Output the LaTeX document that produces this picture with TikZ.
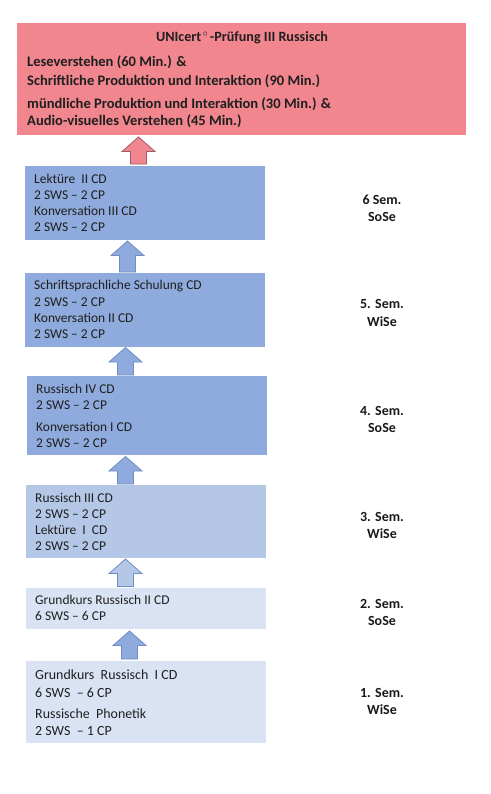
\documentclass[tikz,border=0pt]{standalone}
\usepackage{fontspec}
\setmainfont{Carlito}
\begin{document}
\begin{tikzpicture}[x=1bp,y=-1bp,
  box/.style={draw=none,inner sep=0pt,anchor=north west},
  txt/.style={inner sep=0pt,anchor=base west,font=\fontsize{13.5}{16}\selectfont,text=black!88},
  txtl/.style={txt,font=\fontsize{14}{17}\selectfont},
  rtxt/.style={inner sep=0pt,anchor=base west,font=\fontsize{14.6}{17}\selectfont\bfseries,text=black!88},
  ttl/.style={rtxt,anchor=base,font=\fontsize{14.2}{16}\selectfont\bfseries},
  sem/.style={inner sep=0pt,anchor=base,font=\fontsize{14}{16}\selectfont\bfseries,text=black!90},
  bluearrow/.style={fill=blueA,draw=blueS,line width=0.8pt,line join=miter},
  redarrow/.style={fill=redA,draw=redS,line width=0.8pt,line join=miter}
]
\definecolor{redA}{HTML}{F1868F}
\definecolor{redS}{HTML}{A05A6A}
\definecolor{blueA}{HTML}{8FAADC}
\definecolor{blueB}{HTML}{B4C7E7}
\definecolor{blueC}{HTML}{DAE3F3}
\definecolor{blueS}{HTML}{6F8DC3}
\useasboundingbox[fill=white] (0,0) rectangle (491,794);

% boxes
\node[box,fill=redA,minimum width=449bp,minimum height=112bp] (exam) at (17,23) {};
\node[box,fill=blueA,minimum width=240bp,minimum height=74bp] (s6) at (25,166) {};
\node[box,fill=blueA,minimum width=240bp,minimum height=74bp] (s5) at (25,273) {};
\node[box,fill=blueA,minimum width=240bp,minimum height=79bp] (s4) at (27,376) {};
\node[box,fill=blueB,minimum width=240bp,minimum height=73bp] (s3) at (26,485) {};
\node[box,fill=blueC,minimum width=240bp,minimum height=41bp] (s2) at (26,588) {};
\node[box,fill=blueC,minimum width=240bp,minimum height=82bp] (s1) at (26,661) {};

% exam text
\node[ttl] (t0) at (242,42) {UNIcert$^{\,\circ}$\hspace{1.5pt}-Prüfung III Russisch};
\node[rtxt] (t1) at (27,67) {Leseverstehen (60 Min.) \&};
\node[rtxt] (t2) at (27,85) {Schriftliche Produktion und Interaktion (90 Min.)};
\node[rtxt] (t3) at (27,108) {mündliche Produktion und Interaktion (30 Min.) \&};
\node[rtxt] (t4) at (27,125) {Audio-visuelles Verstehen (45 Min.)};

% semester 6
\node[txt] (a1) at (34,183.5) {Lektüre\ \ II CD};
\node[txt] (a2) at (34,199.5) {2 SWS – 2 CP};
\node[txt] (a3) at (34,215.5) {Konversation III CD};
\node[txt] (a4) at (34,231.5) {2 SWS – 2 CP};
% semester 5
\node[txt] (b1) at (34,289.5) {Schriftsprachliche Schulung CD};
\node[txt] (b2) at (34,306) {2 SWS – 2 CP};
\node[txt] (b3) at (34,322) {Konversation II CD};
\node[txt] (b4) at (34,338.5) {2 SWS – 2 CP};
% semester 4
\node[txt] (c1) at (36,393.5) {Russisch IV CD};
\node[txt] (c2) at (36,409.5) {2 SWS – 2 CP};
\node[txt] (c3) at (36,431.5) {Konversation I CD};
\node[txt] (c4) at (36,447.5) {2 SWS – 2 CP};
% semester 3
\node[txt] (d1) at (35,502.5) {Russisch III CD};
\node[txt] (d2) at (35,518.5) {2 SWS – 2 CP};
\node[txt] (d3) at (35,534.5) {Lektüre\ \ I\ \ CD};
\node[txt] (d4) at (35,550.5) {2 SWS – 2 CP};
% semester 2
\node[txt] (e1) at (35,604.5) {Grundkurs Russisch II CD};
\node[txt] (e2) at (35,620.5) {6 SWS – 6 CP};
% semester 1
\node[txtl] (f1) at (35,679) {Grundkurs\ \ Russisch\ \ I CD};
\node[txtl] (f2) at (35,697) {6 SWS\ \ – 6 CP};
\node[txtl] (f3) at (35,718) {Russische\ \ Phonetik};
\node[txtl] (f4) at (35,735) {2 SWS\ \ – 1 CP};

% semester labels
\node[sem] (l6a) at (382,204) {6 Sem.};
\node[sem] (l6b) at (382,221.5) {SoSe};
\node[sem] (l5a) at (382,308) {5. Sem.};
\node[sem] (l5b) at (382,326) {WiSe};
\node[sem] (l4a) at (382,415) {4. Sem.};
\node[sem] (l4b) at (382,432.5) {SoSe};
\node[sem] (l3a) at (382,521) {3. Sem.};
\node[sem] (l3b) at (382,538) {WiSe};
\node[sem] (l2a) at (382,608) {2. Sem.};
\node[sem] (l2b) at (382,625) {SoSe};
\node[sem] (l1a) at (382,697) {1. Sem.};
\node[sem] (l1b) at (382,714) {WiSe};

% block arrows: (cx, tip y, base y)
\newcommand\blockarrow[4]{%
  \draw[#1] (#2,#3) -- (#2+16.5,#3+14.5) -- (#2+8,#3+14.5) -- (#2+8,#4)
    -- (#2-8,#4) -- (#2-8,#3+14.5) -- (#2-16.5,#3+14.5) -- cycle;}
\blockarrow{redarrow}{138.5}{137}{164}
\blockarrow{bluearrow}{127.5}{241}{272}
\blockarrow{bluearrow}{125.5}{347.5}{375}
\blockarrow{bluearrow}{125.5}{456.5}{484}
\blockarrow{bluearrow,fill=blueB}{125.5}{559}{586.5}
\blockarrow{bluearrow}{129.5}{631}{659}
\end{tikzpicture}
\end{document}
